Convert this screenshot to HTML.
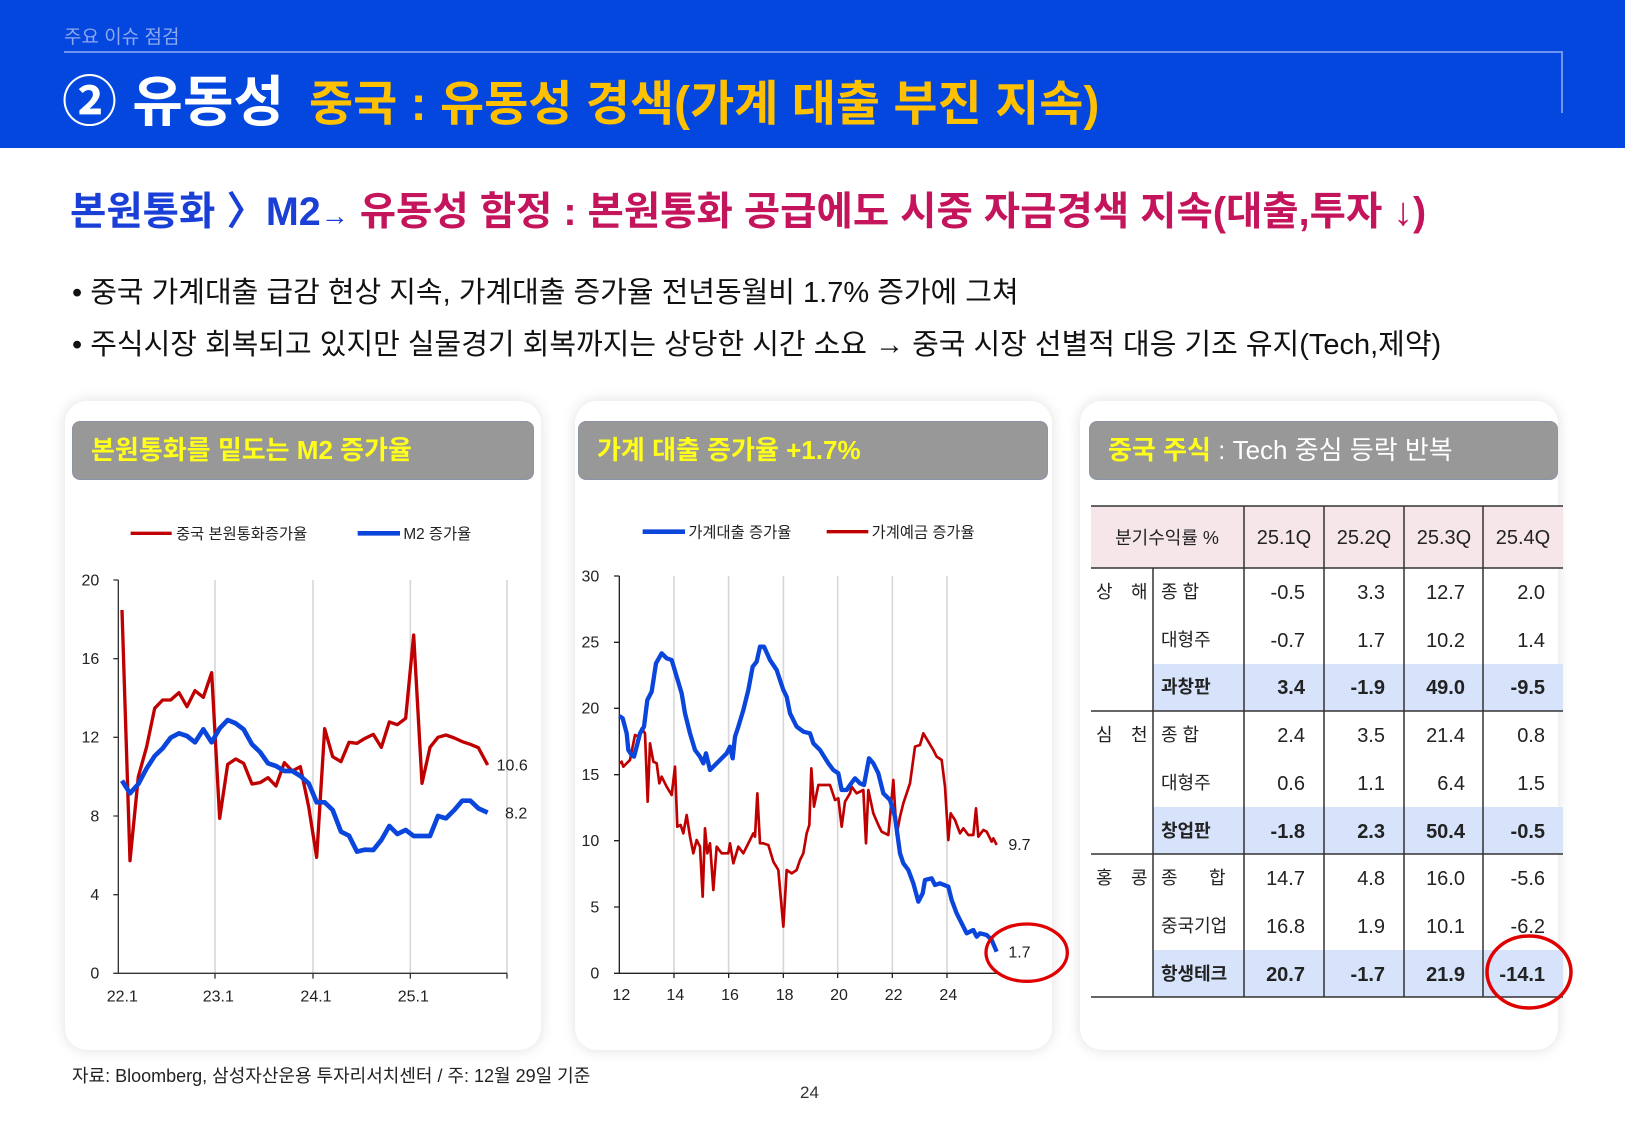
<!DOCTYPE html>
<html><head><meta charset="utf-8"><style>
*{margin:0;padding:0;box-sizing:border-box}
body{width:1625px;height:1125px;position:relative;background:#fff;overflow:hidden;font-family:"Liberation Sans","Noto Sans CJK KR",sans-serif}
.a{position:absolute;white-space:nowrap}
.panel{position:absolute;top:401px;height:649px;background:#fff;border-radius:22px;box-shadow:0 0 14px rgba(0,0,0,0.13)}
.hdr{position:absolute;top:421px;height:59px;background:#989898;border-radius:8px;border:1px solid #8a93a8;color:#ffff1a;font-size:26px;font-weight:bold;line-height:57px;padding-left:18px}
svg text{font-family:"Liberation Sans","Noto Sans CJK KR",sans-serif}
</style></head><body>
<div class="a" style="left:0;top:0;width:1625px;height:148px;background:#0347de"></div>
<div class="a" style="left:64px;top:22px;font-size:19px;color:#8fa8f0">주요 이슈 점검</div>
<div class="a" style="left:64px;top:51px;width:1499px;height:2px;background:#6f95f0"></div>
<div class="a" style="left:1561px;top:51px;width:2px;height:62px;background:#6f95f0"></div>
<div class="a" style="left:62px;top:68px;font-size:55px;font-weight:bold;color:#fff;line-height:68px">② 유동성</div>
<div class="a" style="left:309px;top:74px;font-size:48px;font-weight:bold;color:#ffc000;line-height:62px">중국 : 유동성 경색(가계 대출 부진 지속)</div>
<div class="a" style="left:70px;top:187px;font-size:39.5px;font-weight:bold;line-height:50px"><span style="color:#1a3fd6">본원통화 〉M2</span><span style="color:#1a3fd6;font-size:28px">→</span> <span style="color:#c4155c">유동성 함정 : 본원통화 공급에도 시중 자금경색 지속(대출,투자 ↓)</span></div>
<div class="a" style="left:72px;top:269px;font-size:29px;color:#111">• 중국 가계대출 급감 현상 지속, 가계대출 증가율 전년동월비 1.7% 증가에 그쳐</div>
<div class="a" style="left:72px;top:321px;font-size:29px;color:#111">• 주식시장 회복되고 있지만 실물경기 회복까지는 상당한 시간 소요 → 중국 시장 선별적 대응 기조 유지(Tech,제약)</div>

<div class="panel" style="left:65px;width:476px"></div>
<div class="panel" style="left:575px;width:477px"></div>
<div class="panel" style="left:1080px;width:478px"></div>
<div class="hdr" style="left:72px;width:462px">본원통화를 밑도는 M2 증가율</div>
<div class="hdr" style="left:578px;width:470px">가계 대출 증가율 +1.7%</div>
<div class="hdr" style="left:1089px;width:469px">중국 주식<span style="color:#fff;font-weight:normal"> : Tech 중심 등락 반복</span></div>

<svg class="a" style="left:60px;top:500px;overflow:visible" width="480" height="520" viewBox="0 0 1440 1560">
<g stroke="#d8d8d8" stroke-width="5"><line x1="465" y1="240" x2="465" y2="1420"/><line x1="759" y1="240" x2="759" y2="1420"/><line x1="1051" y1="240" x2="1051" y2="1420"/><line x1="1341" y1="240" x2="1341" y2="1420"/></g>
<g stroke="#333" stroke-width="4" fill="none"><path d="M175 240V1420H1341"/>
<path d="M160 240H175M160 476H175M160 712H175M160 948H175M160 1184H175M160 1420H175M465 1420v16M759 1420v16M1051 1420v16M1341 1420v16"/></g>
<g font-size="48" fill="#222" text-anchor="end"><text x="118" y="256">20</text><text x="118" y="492">16</text><text x="118" y="728">12</text><text x="118" y="964">8</text><text x="118" y="1200">4</text><text x="118" y="1436">0</text></g>
<g font-size="48" fill="#222" text-anchor="middle"><text x="187" y="1505">22.1</text><text x="475" y="1505">23.1</text><text x="768" y="1505">24.1</text><text x="1060" y="1505">25.1</text></g>
<text x="1310" y="812" font-size="48" fill="#222">10.6</text><text x="1335" y="955" font-size="48" fill="#222">8.2</text>
<line x1="212" y1="100" x2="335" y2="100" stroke="#c00000" stroke-width="10"/><text x="348" y="117" font-size="46" fill="#222">중국 본원통화증가율</text>
<line x1="893" y1="100" x2="1020" y2="100" stroke="#0a46dc" stroke-width="14"/><text x="1030" y="117" font-size="46" fill="#222">M2 증가율</text>
<polyline fill="none" stroke="#c00000" stroke-width="10" stroke-linejoin="round" points="186,330 210,1082 235,830 260,740 284,625 308,600 332,600 357,578 381,620 405,572 430,592 455,518 479,955 503,793 527,777 551,790 576,852 600,848 624,833 648,858 673,788 697,813 721,800 746,920 770,1072 794,686 818,770 843,785 867,727 891,730 915,715 940,703 964,742 988,666 1012,674 1037,655 1061,405 1086,850 1110,742 1134,712 1158,705 1183,714 1207,725 1231,733 1255,743 1283,795"/>
<polyline fill="none" stroke="#0a46dc" stroke-width="14" stroke-linejoin="round" points="186,842 210,880 235,852 260,805 284,768 308,745 332,713 357,700 381,708 405,727 430,688 455,727 479,685 503,660 527,670 551,688 576,733 600,756 624,790 648,798 673,813 697,813 721,828 746,850 770,907 794,907 818,930 843,995 867,1007 891,1055 915,1049 940,1050 964,1020 988,978 1012,1002 1037,990 1061,1008 1086,1008 1110,1008 1134,948 1158,955 1183,930 1207,902 1231,902 1255,925 1283,938"/>
</svg>

<svg class="a" style="left:570px;top:500px;overflow:visible" width="480" height="520" viewBox="0 0 1440 1560">
<g stroke="#d8d8d8" stroke-width="5"><line x1="312" y1="228" x2="312" y2="1420"/><line x1="476" y1="228" x2="476" y2="1420"/><line x1="640" y1="228" x2="640" y2="1420"/><line x1="803" y1="228" x2="803" y2="1420"/><line x1="967" y1="228" x2="967" y2="1420"/><line x1="1131" y1="228" x2="1131" y2="1420"/></g>
<g stroke="#222" stroke-width="4" fill="none"><path d="M148 228V1420H1290"/>
<path d="M132 228H148M132 427H148M132 625H148M132 824H148M132 1022H148M132 1221H148M132 1420H148M312 1420v14M476 1420v14M640 1420v14M803 1420v14M967 1420v14M1131 1420v14"/></g>
<g font-size="48" fill="#222" text-anchor="end"><text x="88" y="244">30</text><text x="88" y="443">25</text><text x="88" y="641">20</text><text x="88" y="840">15</text><text x="88" y="1038">10</text><text x="88" y="1237">5</text><text x="88" y="1436">0</text></g>
<g font-size="48" fill="#222" text-anchor="middle"><text x="154" y="1500">12</text><text x="316" y="1500">14</text><text x="480" y="1500">16</text><text x="644" y="1500">18</text><text x="807" y="1500">20</text><text x="971" y="1500">22</text><text x="1135" y="1500">24</text></g>
<text x="1315" y="1050" font-size="48" fill="#222">9.7</text><text x="1315" y="1372" font-size="48" fill="#222">1.7</text>
<line x1="218" y1="95" x2="345" y2="95" stroke="#0a46dc" stroke-width="14"/><text x="355" y="112" font-size="46" fill="#222">가계대출 증가율</text>
<line x1="770" y1="95" x2="895" y2="95" stroke="#c00000" stroke-width="10"/><text x="905" y="112" font-size="46" fill="#222">가계예금 증가율</text>
<polyline fill="none" stroke="#c00000" stroke-width="8" stroke-linejoin="round" points="148,790 155,785 160,800 170,790 180,780 195,705 205,710 215,685 225,700 233,905 240,730 250,785 260,790 268,850 275,830 290,860 305,885 315,800 322,980 332,975 340,1000 350,945 360,1010 370,1060 380,1020 390,1040 398,1190 405,985 412,1060 420,1030 430,1170 440,1040 455,1060 475,1060 480,1030 490,1090 505,1040 520,1060 540,1020 550,1000 555,1010 562,880 570,1030 580,1030 595,1035 610,1085 625,1110 640,1280 650,1110 665,1120 680,1110 690,1080 700,1060 710,1000 718,975 724,805 732,920 745,855 760,855 780,855 795,900 805,895 815,980 825,905 840,880 845,860 860,880 880,870 888,1030 895,870 910,940 925,975 935,995 955,1005 970,840 980,1005 990,950 1000,910 1010,880 1020,850 1035,740 1050,735 1060,700 1075,725 1090,750 1100,770 1115,780 1125,860 1135,1020 1142,940 1155,960 1170,1000 1180,985 1195,1005 1210,1005 1218,925 1225,1010 1240,990 1250,995 1265,1025 1270,1015 1280,1035"/>
<polyline fill="none" stroke="#0a46dc" stroke-width="13" stroke-linejoin="round" points="148,648 158,655 170,700 175,750 185,765 192,770 200,740 210,700 222,680 232,600 245,575 258,490 275,460 290,475 305,480 320,530 335,580 345,640 360,700 375,750 390,770 400,790 408,760 420,810 435,795 450,780 470,760 480,740 488,775 495,710 505,680 520,630 535,570 548,500 560,485 570,440 582,440 600,480 620,510 640,570 650,590 660,640 680,680 700,695 720,700 730,730 750,750 775,790 790,810 805,820 815,870 830,870 840,855 855,835 870,850 882,855 897,775 910,790 925,820 940,880 960,900 975,950 990,1060 1000,1090 1015,1110 1030,1150 1045,1205 1058,1180 1065,1140 1085,1135 1095,1155 1110,1150 1135,1160 1145,1200 1160,1240 1175,1270 1190,1300 1210,1290 1220,1310 1230,1300 1250,1305 1265,1320 1280,1355"/>
<ellipse cx="1370" cy="1358" rx="122" ry="86" fill="none" stroke="#e00000" stroke-width="10"/>
</svg>

<svg class="a" style="left:0;top:0" width="1625" height="1125">
<rect x="1091" y="506" width="472" height="62" fill="#f6e6ea"/>
<rect x="1153" y="664" width="410" height="47" fill="#d6e3fb"/>
<rect x="1153" y="807" width="410" height="47" fill="#d6e3fb"/>
<rect x="1153" y="950" width="410" height="47" fill="#d6e3fb"/>
<g stroke="#333" stroke-width="1.5">
<line x1="1091" y1="506" x2="1563" y2="506"/><line x1="1091" y1="568" x2="1563" y2="568"/><line x1="1091" y1="711" x2="1563" y2="711"/><line x1="1091" y1="854" x2="1563" y2="854"/><line x1="1091" y1="997" x2="1563" y2="997"/>
<line x1="1153" y1="568" x2="1153" y2="997"/><line x1="1244" y1="506" x2="1244" y2="997"/><line x1="1324" y1="506" x2="1324" y2="997"/><line x1="1404" y1="506" x2="1404" y2="997"/><line x1="1483" y1="506" x2="1483" y2="997"/>
</g>
<g font-size="20" fill="#222">
<text x="1167" y="544" text-anchor="middle" font-size="18">분기수익률 %</text>
<text x="1284" y="544" text-anchor="middle">25.1Q</text><text x="1364" y="544" text-anchor="middle">25.2Q</text><text x="1444" y="544" text-anchor="middle">25.3Q</text><text x="1523" y="544" text-anchor="middle">25.4Q</text>
<g font-size="18"><text x="1096" y="598">상</text><text x="1131" y="598">해</text><text x="1096" y="741">심</text><text x="1131" y="741">천</text><text x="1096" y="884">홍</text><text x="1131" y="884">콩</text>
<text x="1161" y="598">종  합</text><text x="1161" y="646">대형주</text><text x="1161" y="741">종  합</text><text x="1161" y="789">대형주</text><text x="1161" y="884">종</text><text x="1209" y="884">합</text><text x="1161" y="932">중국기업</text>
<g font-weight="bold"><text x="1161" y="693">과창판</text><text x="1161" y="837">창업판</text><text x="1161" y="980">항생테크</text></g></g>
<g text-anchor="end">
<text x="1305" y="599">-0.5</text><text x="1385" y="599">3.3</text><text x="1465" y="599">12.7</text><text x="1545" y="599">2.0</text>
<text x="1305" y="647">-0.7</text><text x="1385" y="647">1.7</text><text x="1465" y="647">10.2</text><text x="1545" y="647">1.4</text>
<g font-weight="bold"><text x="1305" y="694">3.4</text><text x="1385" y="694">-1.9</text><text x="1465" y="694">49.0</text><text x="1545" y="694">-9.5</text></g>
<text x="1305" y="742">2.4</text><text x="1385" y="742">3.5</text><text x="1465" y="742">21.4</text><text x="1545" y="742">0.8</text>
<text x="1305" y="790">0.6</text><text x="1385" y="790">1.1</text><text x="1465" y="790">6.4</text><text x="1545" y="790">1.5</text>
<g font-weight="bold"><text x="1305" y="838">-1.8</text><text x="1385" y="838">2.3</text><text x="1465" y="838">50.4</text><text x="1545" y="838">-0.5</text></g>
<text x="1305" y="885">14.7</text><text x="1385" y="885">4.8</text><text x="1465" y="885">16.0</text><text x="1545" y="885">-5.6</text>
<text x="1305" y="933">16.8</text><text x="1385" y="933">1.9</text><text x="1465" y="933">10.1</text><text x="1545" y="933">-6.2</text>
<g font-weight="bold"><text x="1305" y="981">20.7</text><text x="1385" y="981">-1.7</text><text x="1465" y="981">21.9</text><text x="1545" y="981">-14.1</text></g>
</g></g>
<ellipse cx="1529" cy="972" rx="42" ry="36" fill="none" stroke="#e00000" stroke-width="3.5"/>
</svg>

<div class="a" style="left:72px;top:1062px;font-size:18px;color:#222">자료: Bloomberg, 삼성자산운용 투자리서치센터 / 주: 12월 29일 기준</div>
<div class="a" style="left:800px;top:1083px;font-size:17px;color:#333">24</div>
</body></html>
